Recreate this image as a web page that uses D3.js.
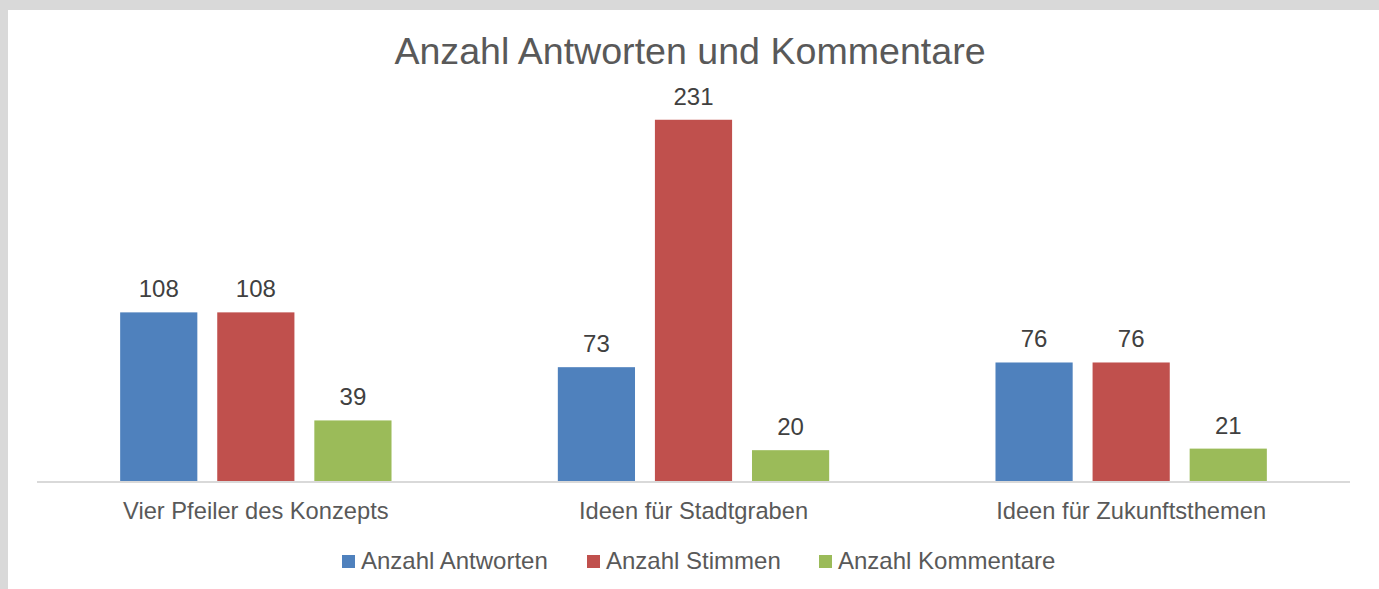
<!DOCTYPE html>
<html>
<head>
<meta charset="utf-8">
<script src="https://cdn.jsdelivr.net/npm/d3@7"></script>
<style>
  html, body { margin: 0; padding: 0; background: #d9d9d9; }
  svg { display: block; }
</style>
</head>
<body>
<svg id="chart" width="1379" height="589"></svg>
<script>
const categories = ["Vier Pfeiler des Konzepts", "Ideen für Stadtgraben", "Ideen für Zukunftsthemen"];
const seriesNames = ["Anzahl Antworten", "Anzahl Stimmen", "Anzahl Kommentare"];
const antworten = [108, 73, 76];
const stimmen = [108, 231, 76];
const kommentare = [39, 20, 21];
const colors = ["#4f81bd", "#c0504d", "#9bbb59"];

const seriesValues = [antworten, stimmen, kommentare];
const font = "'Liberation Sans', Arial, sans-serif";

const svg = d3.select("#chart");

// chart area (white) inside gray frame
svg.append("rect")
  .attr("x", 8).attr("y", 10)
  .attr("width", 1379 - 8).attr("height", 589 - 10)
  .attr("fill", "#ffffff");

const plot = { left: 37, right: 1350, top: 90, bottom: 481.5 };

const x0 = d3.scaleBand()
  .domain(categories)
  .range([plot.left, plot.right])
  .paddingInner(0)
  .paddingOuter(0);

const x1 = d3.scaleBand()
  .domain(seriesNames)
  .range([x0.bandwidth() * 0.19, x0.bandwidth() * 0.81])
  .paddingInner(0.205)
  .paddingOuter(0);

const y = d3.scaleLinear()
  .domain([0, 250])
  .range([plot.bottom, plot.top]);

// bars
const groups = svg.selectAll(".group")
  .data(categories)
  .enter()
  .append("g")
  .attr("class", "group")
  .attr("transform", d => `translate(${x0(d)},0)`);

groups.each(function(cat, ci) {
  const g = d3.select(this);
  seriesNames.forEach((s, si) => {
    const v = seriesValues[si][ci];
    g.append("rect")
      .attr("x", x1(s))
      .attr("y", y(v))
      .attr("width", x1.bandwidth())
      .attr("height", y(0) - y(v))
      .attr("fill", colors[si]);

    g.append("text")
      .attr("x", x1(s) + x1.bandwidth() / 2)
      .attr("y", y(v) - 15)
      .attr("text-anchor", "middle")
      .attr("font-family", font)
      .attr("font-size", 24)
      .attr("fill", "#404040")
      .text(v);
  });
});

// axis line
svg.append("line")
  .attr("x1", plot.left).attr("x2", plot.right)
  .attr("y1", plot.bottom + 0.5).attr("y2", plot.bottom + 0.5)
  .attr("stroke", "#d9d9d9")
  .attr("stroke-width", 2);

// category labels
svg.selectAll(".cat")
  .data(categories)
  .enter()
  .append("text")
  .attr("class", "cat")
  .attr("x", d => x0(d) + x0.bandwidth() / 2)
  .attr("y", 518.5)
  .attr("text-anchor", "middle")
  .attr("font-family", font)
  .attr("font-size", 23.7)
  .attr("fill", "#595959")
  .text(d => d);

// title
svg.append("text")
  .attr("x", 690)
  .attr("y", 64)
  .attr("text-anchor", "middle")
  .attr("font-family", font)
  .attr("font-size", 37.6)
  .attr("fill", "#595959")
  .text("Anzahl Antworten und Kommentare");

// legend
const legendX = [342, 587, 819];
const legend = svg.selectAll(".legend")
  .data(seriesNames)
  .enter()
  .append("g")
  .attr("class", "legend")
  .attr("transform", (d, i) => `translate(${legendX[i]},555)`);

legend.append("rect")
  .attr("width", 13).attr("height", 13)
  .attr("fill", (d, i) => colors[i]);

legend.append("text")
  .attr("x", 19)
  .attr("y", 14)
  .attr("font-family", font)
  .attr("font-size", 24)
  .attr("fill", "#595959")
  .text(d => d);
</script>
</body>
</html>
